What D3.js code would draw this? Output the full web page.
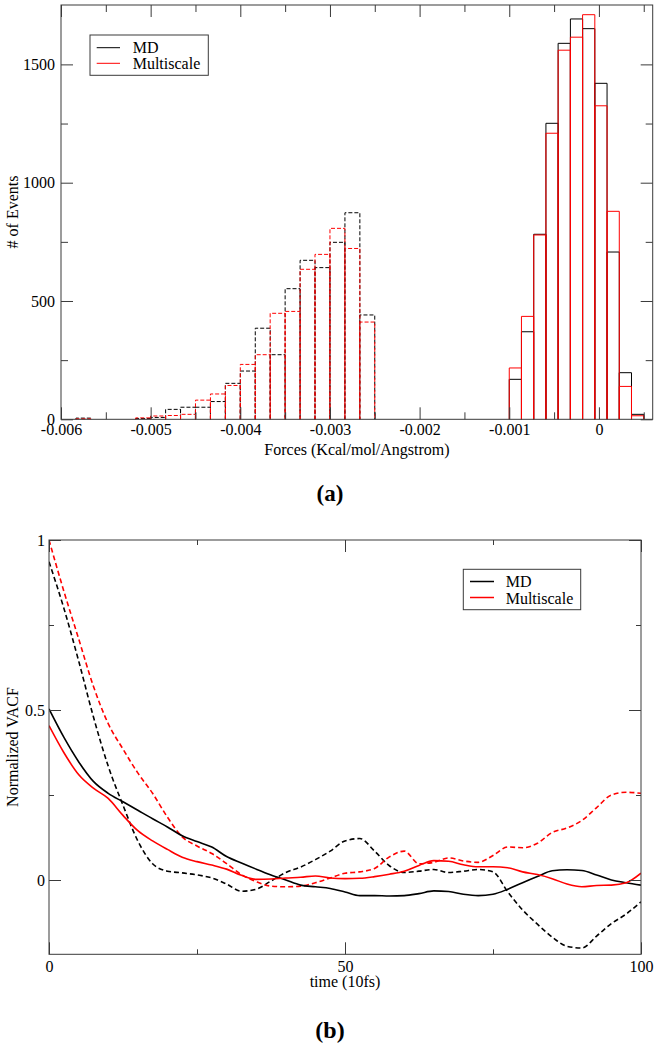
<!DOCTYPE html>
<html>
<head>
<meta charset="utf-8">
<script src="https://cdn.jsdelivr.net/npm/d3@7"></script>
<style>
  html, body { margin: 0; padding: 0; background: #fff; }
  svg { display: block; }
  svg text { font-family: "Liberation Serif", "Times New Roman", Times, Tinos, "DejaVu Serif", serif !important; fill: #000; }
</style>
</head>
<body>
<svg id="chart" width="659" height="1050"></svg>
<script>
// ---------------- DATA ----------------
// (a) Histogram of forces
const leftBinWidth = 0.00016667;
const leftBinEdges = [-0.005833, -0.005667, -0.0055, -0.005333, -0.005167, -0.005, -0.004833, -0.004667,
  -0.0045, -0.004333, -0.004167, -0.004, -0.003833, -0.003667, -0.0035, -0.003333, -0.003167, -0.003,
  -0.002833, -0.002667];
const leftMD    = [5, 0, 0, 0, 3, 8, 42, 51, 51, 75, 152, 204, 385, 273, 552, 672, 641, 748, 873, 441];
const leftMulti = [2, 0, 0, 0, 6, 14, 16, 21, 81, 107, 143, 232, 273, 448, 456, 634, 697, 807, 722, 411];

const rightBinWidth = 0.00013636;
const rightBinEdges = [-0.001, -0.000864, -0.000727, -0.000591, -0.000455, -0.000318, -0.000182,
  -0.0000455, 0.0000909, 0.000227, 0.000364];
const rightMD    = [169, 370, 782, 1251, 1589, 1692, 1651, 1420, 707, 197, 21];
const rightMulti = [217, 435, 779, 1209, 1560, 1615, 1710, 1325, 879, 139, 15];

const histXTicks = [-0.006, -0.005, -0.004, -0.003, -0.002, -0.001, 0];
const histXMinor = [-0.0055, -0.0045, -0.0035, -0.0025, -0.0015, -0.0005, 0.0005];
const histYTicks = [0, 500, 1000, 1500];
const histYMinor = [250, 750, 1250];

// (b) Normalized VACF
const timeVals = [0, 2.5, 5, 7.5, 10, 12.5, 15, 17.5, 20, 22.5, 25, 27.5, 30, 32.5, 35, 37.5, 40, 42.5, 45, 47.5,
  50, 52.5, 55, 57.5, 60, 62.5, 65, 67.5, 70, 72.5, 75, 77.5, 80, 82.5, 85, 87.5, 90, 92.5, 95, 97.5, 100];
const mdSolid = [0.503, 0.42, 0.348, 0.29, 0.255, 0.23, 0.205, 0.18, 0.156, 0.13, 0.113, 0.097, 0.069, 0.05,
  0.032, 0.015, 0.0, -0.015, -0.02, -0.025, -0.035, -0.046, -0.046, -0.047, -0.046, -0.040, -0.032, -0.034,
  -0.042, -0.046, -0.042, -0.027, -0.008, 0.01, 0.027, 0.030, 0.028, 0.015, 0.0, -0.008, -0.015];
const mdDashed = [0.936, 0.80, 0.645, 0.48, 0.335, 0.22, 0.115, 0.048, 0.026, 0.021, 0.015, 0.006, -0.012,
  -0.033, -0.027, -0.003, 0.022, 0.038, 0.06, 0.085, 0.115, 0.122, 0.085, 0.042, 0.022, 0.026, 0.031, 0.022,
  0.026, 0.031, 0.024, -0.035, -0.088, -0.13, -0.168, -0.195, -0.2, -0.165, -0.128, -0.1, -0.064];
const multiSolid = [0.454, 0.375, 0.31, 0.27, 0.24, 0.19, 0.145, 0.115, 0.09, 0.067, 0.054, 0.044, 0.032,
  0.014, 0.002, 0.003, 0.006, 0.008, 0.012, 0.006, 0.004, 0.005, 0.01, 0.017, 0.026, 0.043, 0.057, 0.055,
  0.045, 0.039, 0.039, 0.036, 0.024, 0.016, 0.004, -0.012, -0.02, -0.016, -0.015, -0.008, 0.02];
const multiDashed = [1.0, 0.85, 0.71, 0.57, 0.46, 0.385, 0.315, 0.255, 0.185, 0.127, 0.1, 0.078, 0.048, 0.016,
  -0.005, -0.018, -0.02, -0.018, -0.008, 0.006, 0.02, 0.024, 0.034, 0.068, 0.085, 0.048, 0.052, 0.065, 0.056,
  0.052, 0.072, 0.097, 0.095, 0.108, 0.14, 0.153, 0.175, 0.213, 0.25, 0.258, 0.255];

const vacfXTicks = [0, 50, 100];
const vacfXMinor = [25, 75];
const vacfYTicks = [0, 0.5, 1];
const vacfYMinor = [0.25, 0.75];

const seriesNames = ["MD", "Multiscale"];
const seriesColors = ["#000000", "#ff0000"];

// ---------------- DRAW ----------------
const FONT = '"Liberation Serif", "Times New Roman", Times, Tinos, "DejaVu Serif", serif';
const svg = d3.select("#chart");
svg.append("rect").attr("width", 659).attr("height", 1050).attr("fill", "#fff");
const axisColor = "#3a3a3a";

function styleAxis(g) {
  g.attr("font-family", FONT);
  g.select(".domain").remove();
  g.selectAll(".tick line").attr("stroke", axisColor).attr("stroke-width", 1);
  g.selectAll(".tick text").attr("font-size", 16).attr("font-family", FONT).attr("fill", "#000");
}

function frameAxes(x, y, xt, xm, yt, ym, fmtX, fmtY, major, minor, padX, padY) {
  const [x0, x1] = x.range();
  const [y0, y1] = y.range(); // y0 bottom, y1 top
  styleAxis(svg.append("g").attr("transform", `translate(0,${y0})`)
    .call(d3.axisBottom(x).tickValues(xt).tickSize(-major).tickPadding(padX).tickFormat(fmtX)));
  styleAxis(svg.append("g").attr("transform", `translate(0,${y0})`)
    .call(d3.axisBottom(x).tickValues(xm).tickSize(-minor).tickFormat("")));
  styleAxis(svg.append("g").attr("transform", `translate(0,${y1})`)
    .call(d3.axisTop(x).tickValues(xt).tickSize(-major).tickFormat("")));
  styleAxis(svg.append("g").attr("transform", `translate(0,${y1})`)
    .call(d3.axisTop(x).tickValues(xm).tickSize(-minor).tickFormat("")));
  styleAxis(svg.append("g").attr("transform", `translate(${x0},0)`)
    .call(d3.axisLeft(y).tickValues(yt).tickSize(-major).tickPadding(padY).tickFormat(fmtY)));
  styleAxis(svg.append("g").attr("transform", `translate(${x0},0)`)
    .call(d3.axisLeft(y).tickValues(ym).tickSize(-minor).tickFormat("")));
  styleAxis(svg.append("g").attr("transform", `translate(${x1},0)`)
    .call(d3.axisRight(y).tickValues(yt).tickSize(-major).tickFormat("")));
  styleAxis(svg.append("g").attr("transform", `translate(${x1},0)`)
    .call(d3.axisRight(y).tickValues(ym).tickSize(-minor).tickFormat("")));
  svg.append("rect").attr("x", x0).attr("y", y1).attr("width", x1 - x0).attr("height", y0 - y1)
    .attr("fill", "none").attr("stroke", axisColor).attr("stroke-width", 1);
}

function addText(x, y, str, size, opts = {}) {
  const t = svg.append("text").attr("x", x).attr("y", y).attr("font-size", size)
    .attr("font-family", FONT).attr("text-anchor", opts.anchor || "start").text(str);
  if (opts.bold) t.attr("font-weight", "bold");
  if (opts.transform) t.attr("transform", opts.transform).attr("x", 0).attr("y", 0);
  return t;
}

function legend(bx, by, bw, bh, lineX0, lineX1, ly, textX, tb, lw) {
  svg.append("rect").attr("x", bx).attr("y", by).attr("width", bw).attr("height", bh)
    .attr("fill", "#fff").attr("stroke", axisColor).attr("stroke-width", 1);
  seriesNames.forEach((n, i) => {
    svg.append("line").attr("x1", lineX0).attr("x2", lineX1).attr("y1", ly[i]).attr("y2", ly[i])
      .attr("stroke", seriesColors[i]).attr("stroke-width", lw);
    addText(textX, tb[i], n, 16);
  });
}

// ---- (a) histogram ----
const hx = d3.scaleLinear().domain([-0.006, 0.0006]).range([61, 652.7]);
const hy = d3.scaleLinear().domain([0, 1751]).range([419.3, 5]);

function histPath(edges, width, counts) {
  const p = d3.path();
  edges.forEach((e, i) => {
    if (counts[i] <= 0) return;
    const xa = hx(e), xb = hx(e + width), yb = hy(0), yt = hy(counts[i]);
    p.moveTo(xa, yb); p.lineTo(xa, yt); p.lineTo(xb, yt); p.lineTo(xb, yb);
  });
  return p.toString();
}
const histG = svg.append("g");
[[leftMD, leftMulti, leftBinEdges, leftBinWidth, "4,2"], [rightMD, rightMulti, rightBinEdges, rightBinWidth, null]]
  .forEach(([md, mu, edges, w, dash]) => {
    [md, mu].forEach((c, k) => {
      const path = histG.append("path").attr("d", histPath(edges, w, c))
        .attr("fill", "none").attr("stroke", seriesColors[k]).attr("stroke-width", 1);
      if (dash) path.attr("stroke-dasharray", dash);
    });
  });

frameAxes(hx, hy, histXTicks, histXMinor, histYTicks, histYMinor,
  d => d === 0 ? "0" : d.toFixed(3), d => String(d), 12, 7, 4.3, 6);

addText(357, 455, "Forces (Kcal/mol/Angstrom)", 16, { anchor: "middle" });
addText(0, 0, "# of Events", 16, { anchor: "middle", transform: "translate(18,212) rotate(-90)" });
legend(90, 35, 118.3, 40.3, 96.7, 120, [47.7, 63.3], 132.7, [52.5, 69.3], 1);
addText(330, 501, "(a)", 23, { anchor: "middle", bold: true });

// ---- (b) VACF ----
const vx = d3.scaleLinear().domain([0, 100]).range([49, 641]);
const vy = d3.scaleLinear().domain([-0.2185, 1]).range([954.3, 540]);

const line = d3.line().x(d => vx(d[0])).y(d => vy(d[1])).curve(d3.curveMonotoneX);
const vacfSeries = [
  { v: mdDashed, c: seriesColors[0], dash: "5,3" },
  { v: multiDashed, c: seriesColors[1], dash: "5,3" },
  { v: mdSolid, c: seriesColors[0], dash: null },
  { v: multiSolid, c: seriesColors[1], dash: null }
];
svg.append("clipPath").attr("id", "vclip").append("rect")
  .attr("x", 49).attr("y", 540).attr("width", 592).attr("height", 414.3);
const vg = svg.append("g").attr("clip-path", "url(#vclip)");
vacfSeries.forEach(s => {
  const p = vg.append("path").attr("d", line(timeVals.map((t, i) => [t, s.v[i]])))
    .attr("fill", "none").attr("stroke", s.c).attr("stroke-width", 1.6);
  if (s.dash) p.attr("stroke-dasharray", s.dash);
});

frameAxes(vx, vy, vacfXTicks, vacfXMinor, vacfYTicks, vacfYMinor,
  d => String(d), d => String(d), 12, 5, 6.3, 4);

addText(345, 987, "time (10fs)", 16, { anchor: "middle" });
addText(0, 0, "Normalized VACF", 16, { anchor: "middle", transform: "translate(18,747) rotate(-90)" });
legend(463.3, 569.3, 117.4, 40.4, 470, 494, [581.5, 597.5], 505.7, [587.3, 604.3], 1.5);
addText(330, 1038, "(b)", 24, { anchor: "middle", bold: true });
</script>
</body>
</html>
